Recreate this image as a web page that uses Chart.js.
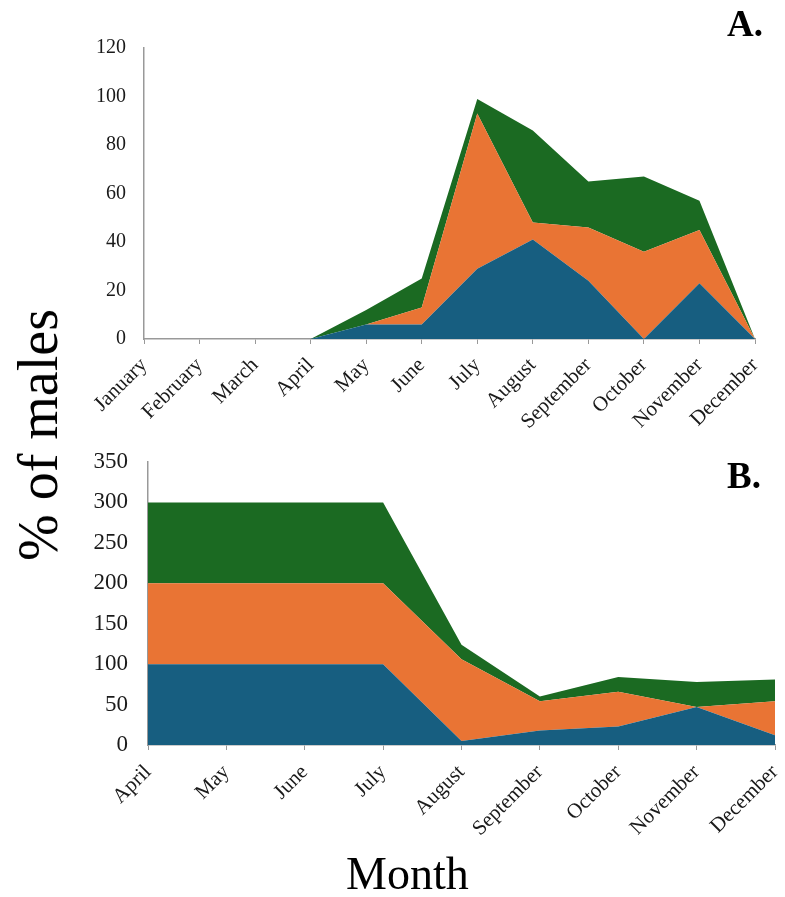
<!DOCTYPE html>
<html><head><meta charset="utf-8">
<script src="https://cdn.jsdelivr.net/npm/chart.js@4"></script>
<style>
html,body{margin:0;padding:0;background:#fff;}
#wrap{position:relative;width:785px;height:897px;overflow:hidden;font-family:'Liberation Serif','Times New Roman',serif;}
canvas{position:absolute;left:0;}
.lbl{position:absolute;color:#000;font-family:'Liberation Serif','Times New Roman',serif;white-space:nowrap;line-height:normal;}
</style></head>
<body><div id="wrap">
<canvas id="cA" width="785" height="432" style="top:0;width:785px;height:432px"></canvas>
<canvas id="cB" width="785" height="457" style="top:440px;width:785px;height:457px"></canvas>
<div class="lbl" style="left:727px;top:2px;font-size:37px;font-weight:bold;">A.</div>
<div class="lbl" style="left:727px;top:454px;font-size:37px;font-weight:bold;">B.</div>
<div class="lbl" style="left:346px;top:847px;font-size:46px;">Month</div>
<div class="lbl" style="left:38px;top:435px;font-size:56px;transform:translate(-50%,-50%) rotate(-90deg);">% of males</div>
</div>
<script>
const monthsA = ['January','February','March','April','May','June','July','August','September','October','November','December'];
const blueA   = [0,0,0,0,6,6,29,41,24,0,23,0];
const orangeA = [0,0,0,0,0,7,64,7,22,36,22,0];
const greenA  = [0,0,0,0,6,12,6,38,19,31,12,0];
const ticksA = {max:120, step:20};

const monthsB = ['April','May','June','July','August','September','October','November','December'];
const blueB   = [100,100,100,100,5,18,23,47,12];
const orangeB = [100,100,100,100,101,36,43,0,42];
const greenB  = [100,100,100,100,18,6,18,31,27];
const ticksB = {max:350, step:50};

const BLUE='#175E80', ORANGE='#E97434', GREEN='#1B6A22';
const SERIF="'Liberation Serif','Times New Roman',serif";

function ds(label,data,color,fill){
  return {label,data,backgroundColor:color,borderColor:color,borderWidth:0,pointRadius:0,pointHoverRadius:0,fill,tension:0};
}
function make(id,labels,b,o,g,tk,opt){
  new Chart(document.getElementById(id),{
    type:'line',
    data:{labels,datasets:[ds('Blue',b,BLUE,'origin'),ds('Orange',o,ORANGE,'-1'),ds('Green',g,GREEN,'-1')]},
    options:{
      responsive:false,animation:false,
      plugins:{legend:{display:false},tooltip:{enabled:false}},
      layout:{padding:opt.pad},
      scales:{
        x:{offset:false,
           grid:{display:true,drawOnChartArea:false,drawTicks:true,tickLength:5,color:'#999'},
           border:{display:true,color:'#999',width:1.5},
           ticks:{autoSkip:false,maxRotation:45,minRotation:45,color:'#1a1a1a',padding:opt.xpad,font:{family:SERIF,size:opt.xfs}},
           afterFit:s=>{s.height=opt.xh;s.paddingLeft=0;s.paddingRight=0;}},
        y:{stacked:true,min:0,max:tk.max,
           grid:{display:true,drawOnChartArea:false,drawTicks:false},
           border:{display:true,color:'#999',width:1.5},
           ticks:{stepSize:tk.step,color:'#1a1a1a',padding:opt.ypad,font:{family:SERIF,size:opt.yfs}},
           afterFit:s=>{s.width=opt.yw;s.paddingTop=0;s.paddingBottom=0;}}
      }
    }
  });
}
make('cA',monthsA,blueA,orangeA,greenA,ticksA,{pad:{top:48,right:30,left:0,bottom:0},xh:93,yw:144,xfs:21,yfs:20,ypad:18,xpad:9});
make('cB',monthsB,blueB,orangeB,greenB,ticksB,{pad:{top:22,right:10,left:0,bottom:0},xh:152,yw:148,xfs:21,yfs:23,ypad:20,xpad:10});
</script>
</body></html>
